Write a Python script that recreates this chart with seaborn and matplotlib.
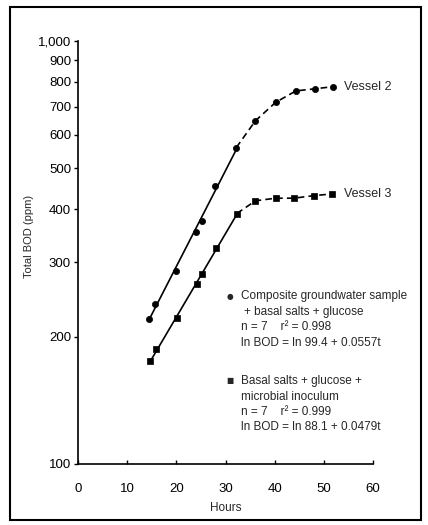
import numpy as np
import pandas as pd
import matplotlib
matplotlib.use("Agg")
import matplotlib.pyplot as plt
import seaborn as sns
from matplotlib.ticker import FixedLocator, FixedFormatter, NullLocator
from matplotlib.patches import Rectangle

sns.set_style("white")
plt.rcParams['font.family'] = ['Liberation Sans Narrow', 'Liberation Sans', 'DejaVu Sans']

# ---- data ----
hours_v2 = [14.4, 15.6, 20.0, 24.1, 25.2, 27.8, 32.2, 36.1, 40.2, 44.3, 48.2, 51.9]
bod_v2 = [220, 239, 286, 353, 376, 454, 560, 648, 716, 762, 771, 780]
hours_v3 = [14.7, 15.9, 20.1, 24.2, 25.2, 28.1, 32.3, 36.1, 40.2, 43.9, 48.0, 51.7]
bod_v3 = [175, 187, 221, 266, 281, 324, 391, 419, 425, 425, 431, 435]
n_fit = 7
y_ticks = [100, 200, 300, 400, 500, 600, 700, 800, 900, 1000]
y_tick_labels = ["100", "200", "300", "400", "500", "600", "700", "800", "900", "1,000"]
x_ticks = [0, 10, 20, 30, 40, 50, 60]
series_labels = ["Vessel 2", "Vessel 3"]
legend_lines_1 = ["Composite groundwater sample", "+ basal salts + glucose",
                  "n = 7    r² = 0.998", "ln BOD = ln 99.4 + 0.0557t"]
legend_lines_2 = ["Basal salts + glucose +", "microbial inoculum",
                  "n = 7    r² = 0.999", "ln BOD = ln 88.1 + 0.0479t"]

W, H = 428, 525
fig = plt.figure(figsize=(W / 100, H / 100), dpi=100)
ax = fig.add_axes([78 / W, 1 - 464 / H, (373 - 78) / W, (464 - 41) / H])

df2 = pd.DataFrame({"t": hours_v2, "bod": bod_v2})
df3 = pd.DataFrame({"t": hours_v3, "bod": bod_v3})

for df, marker in [(df2, "o"), (df3, "s")]:
    # log-linear regression over the exponential phase (solid)
    sub = df.iloc[:n_fit]
    b, a = np.polyfit(sub["t"], np.log(sub["bod"]), 1)
    tt = np.array([sub["t"].iloc[0], sub["t"].iloc[-1]])
    ax.plot(tt, np.exp(a + b * tt), color="black", lw=1.2, solid_capstyle="butt")
    # dashed connection over the plateau
    tail = df.iloc[n_fit - 1:]
    sns.lineplot(data=tail, x="t", y="bod", ax=ax, color="black", lw=1.2,
                 linestyle=(0, (4, 2.5)), sort=False)
    sns.scatterplot(data=df, x="t", y="bod", ax=ax, color="black", marker=marker,
                    s=20, edgecolor="black", linewidth=0.5, zorder=5)

ax.set_yscale("log")
ax.set_xlim(0, 60)
ax.set_ylim(100, 1000)
ax.yaxis.set_major_locator(FixedLocator(y_ticks))
ax.yaxis.set_major_formatter(FixedFormatter(y_tick_labels))
ax.yaxis.set_minor_locator(NullLocator())
ax.set_xticks(x_ticks)
ax.set_xlabel("")
ax.set_ylabel("")
for s in ["top", "right"]:
    ax.spines[s].set_visible(False)
for s in ["left", "bottom"]:
    ax.spines[s].set_color("black")
    ax.spines[s].set_linewidth(1.2)
ax.tick_params(axis="y", direction="out", length=3, width=1, pad=2,
               labelsize=9.5, colors="black", left=True)
ax.tick_params(axis="x", direction="in", length=3, width=1, pad=14,
               labelsize=9.5, colors="black", bottom=True)

# end labels
ax.text(hours_v2[-1] + 2.3, bod_v2[-1], series_labels[0], va="center", ha="left", fontsize=9)
ax.text(hours_v3[-1] + 2.3, bod_v3[-1], series_labels[1], va="center", ha="left", fontsize=9)

# axis titles
fig.text(29 / W, 1 - 236 / H, "Total BOD (ppm)", rotation=90, ha="center", va="center", fontsize=8)
fig.text(226 / W, 1 - 508 / H, "Hours", ha="center", va="center", fontsize=8.5)

# legend text blocks
fig.text(230 / W, 1 - 296 / H, "●", ha="center", va="center", fontsize=5.5,
         family="DejaVu Sans")
for i, line in enumerate(legend_lines_1):
    x0 = 243.5 if line.startswith("+") else 241
    fig.text(x0 / W, 1 - (296 + 15.6 * i) / H, line, ha="left", va="center", fontsize=8.5)
fig.text(230 / W, 1 - 381 / H, "■", ha="center", va="center", fontsize=5.5,
         family="DejaVu Sans")
for i, line in enumerate(legend_lines_2):
    fig.text(241 / W, 1 - (381 + 15.5 * i) / H, line, ha="left", va="center", fontsize=8.5)

# scanned frame
fig.patches.append(Rectangle((10 / W, 1 - 520 / H), (421 - 10) / W, (520 - 7) / H,
                             transform=fig.transFigure, fill=False,
                             edgecolor="black", lw=1.5))

fig.savefig("out.png", dpi=100)
